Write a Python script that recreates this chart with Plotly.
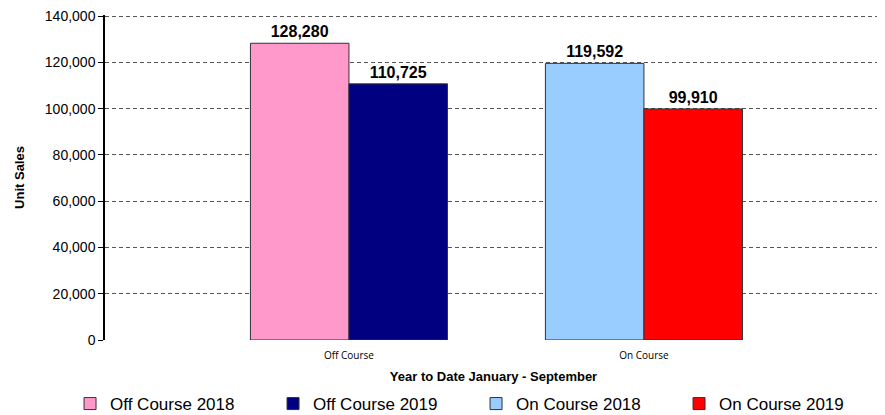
import plotly.graph_objects as go

categories = ["Off Course", "On Course"]
series_names = ["Off Course 2018", "Off Course 2019", "On Course 2018", "On Course 2019"]
series_values = [
    [128280, None],
    [110725, None],
    [None, 119592],
    [None, 99910],
]
series_colors = ["#FF99CC", "#000080", "#99CCFF", "#FF0000"]
y_ticks = [0, 20000, 40000, 60000, 80000, 100000, 120000, 140000]

fig = go.Figure()
offsets = [-0.334, 0.0, -0.334, 0.0]
for name, vals, col, off in zip(series_names, series_values, series_colors, offsets):
    fig.add_trace(go.Bar(
        name=name,
        x=categories,
        y=vals,
        marker=dict(color=col, line=dict(color="#333333", width=1)),
        width=0.334,
        offset=off,
        text=[f"<b>{v:,}</b>" if v is not None else "" for v in vals],
        textposition="outside",
        textfont=dict(family="Liberation Sans, Arial", size=16, color="black"),
        cliponaxis=False,
    ))

# page body has an 8px margin, so the figure is 8px smaller than the window
fig.update_layout(
    width=877, height=407,
    margin=dict(l=97, r=3, t=7, b=75, autoexpand=False),
    plot_bgcolor="white", paper_bgcolor="white",
    barmode="overlay",
    showlegend=True,
    legend=dict(
        orientation="h", x=-0.045, xanchor="left", y=-0.197, yanchor="middle",
        font=dict(family="Liberation Sans, Arial", size=17, color="black"),
        entrywidth=158, entrywidthmode="pixels",
        itemwidth=30, traceorder="normal",
    ),
    xaxis=dict(
        type="category",
        range=[-0.827, 1.807],
        showgrid=False, showline=False, ticks="",
        ticklabelstandoff=8,
        tickfont=dict(family="Open Sans", size=10, color="black"),
        title=dict(text="<b>Year to Date January - September</b>",
                   font=dict(family="Liberation Sans, Arial", size=13, color="black"),
                   standoff=10),
    ),
    yaxis=dict(
        range=[0, 140500],
        tickvals=y_ticks,
        tickformat=",",
        ticklabeloverflow="allow",
        showgrid=True, gridcolor="#555555", gridwidth=1, griddash="4px,3px",
        zeroline=False,
        showline=True, linecolor="black", linewidth=1.5,
        ticks="outside", ticklen=5, tickcolor="black",
        tickfont=dict(family="Liberation Sans, Arial", size=14, color="black"),
        title=dict(text="<b>Unit Sales</b>",
                   font=dict(family="Liberation Sans, Arial", size=13, color="black"),
                   standoff=17),
    ),
)

fig.write_html("out.html")
